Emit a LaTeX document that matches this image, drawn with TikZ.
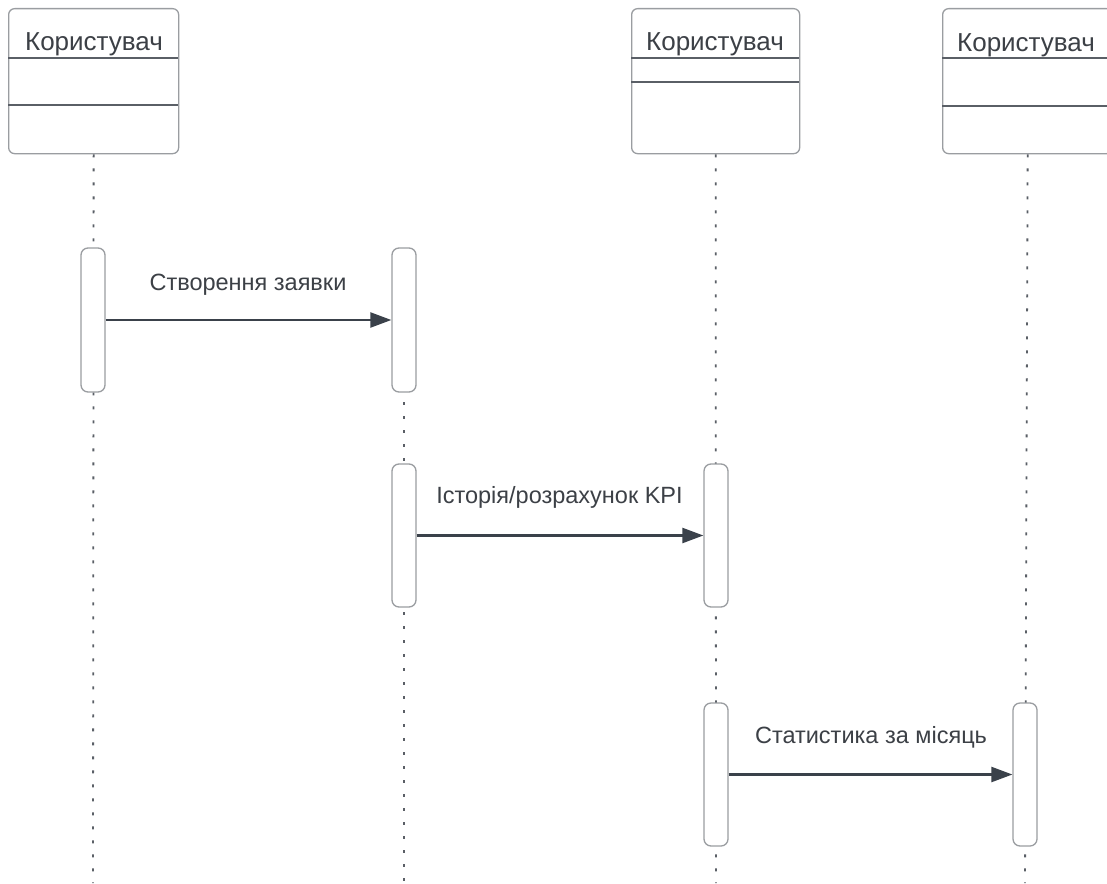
\documentclass[tikz,border=0pt]{standalone}
\usepackage{fontspec}
\setmainfont{Liberation Sans}
\usetikzlibrary{arrows.meta}
\definecolor{frame}{HTML}{9A9DA1}
\definecolor{rule}{HTML}{5A5F66}
\definecolor{ink}{HTML}{3A414A}
\definecolor{txt}{HTML}{3C4046}
\begin{document}
\begin{tikzpicture}[x=1pt,y=-1pt,
  header/.style={draw=frame,line width=1.3pt,rounded corners=6pt,fill=white,
    minimum width=170pt,minimum height=145pt,inner sep=0pt,anchor=north west},
  activation/.style={draw=frame,line width=1.3pt,rounded corners=7pt,fill=white,
    minimum width=24pt,minimum height=144pt,inner sep=0pt},
  lifeline/.style={draw=rule,line width=1.8pt,dash pattern=on 3pt off 11pt},
  compart/.style={draw=rule,line width=1.5pt},
  message/.style={draw=ink,line width=2.3pt,-{Triangle[length=21pt,width=15pt]}},
  lbl/.style={text=txt,font=\fontsize{23.5}{26}\selectfont,inner sep=0pt,anchor=base},
  title/.style={text=txt,font=\fontsize{26}{30}\selectfont,inner sep=0pt,anchor=base}]
\useasboundingbox (0,0) rectangle (1107,883);
\clip (0,0) rectangle (1107,883);
\fill[white] (0,0) rectangle (1107,883);

% lifeline end points
\coordinate (e1) at (93,883);
\coordinate (e2) at (404,883);
\coordinate (e3) at (716,883);
\coordinate (e4) at (1025,883);

% participant headers
\node[header] (h1) at (8,8) {};
\node[header,minimum width=168pt] (h3) at (631,8) {};
\node[header] (h4) at (942,8) {};

% lifelines
\draw[lifeline] (h1.south) -- (e1);
\draw[lifeline] (404,248) -- (e2);
\draw[lifeline] (h3.south) -- (e3);
\draw[lifeline] (h4.south) -- (e4);

% header compartments and titles
\draw[compart] (h1.north west) ++(0,50) -- ++(170,0);
\draw[compart] (h1.north west) ++(0,97) -- ++(170,0);
\draw[compart] (h3.north west) ++(0,50) -- ++(168,0);
\draw[compart] (h3.north west) ++(0,74) -- ++(168,0);
\draw[compart] (h4.north west) ++(0,50) -- ++(170,0);
\draw[compart] (h4.north west) ++(0,98) -- ++(170,0);
\node[title] (t1) at (94,51) {Користувач};
\node[title] (t3) at (715,51) {Користувач};
\node[title] (t4) at (1026,52) {Користувач};

% activation bars
\node[activation] (a1) at (93,320) {};
\node[activation] (a2) at (404,320) {};
\node[activation,minimum height=143pt] (a3) at (404,535.5) {};
\node[activation,minimum height=143pt] (a4) at (716,535.5) {};
\node[activation,minimum height=143pt] (a5) at (716,774.5) {};
\node[activation,minimum height=143pt] (a6) at (1025,774.5) {};

% messages
\draw[message] (a1.east) -- (a2.west);
\draw[message] (a3.east) -- (a4.west);
\draw[message] (a5.east) -- (a6.west);
\node[lbl] (m1) at (248,290) {Створення заявки};
\node[lbl] (m2) at (559.5,503) {Історія/розрахунок KPI};
\node[lbl] (m3) at (871,743) {Статистика за місяць};
\end{tikzpicture}
\end{document}
